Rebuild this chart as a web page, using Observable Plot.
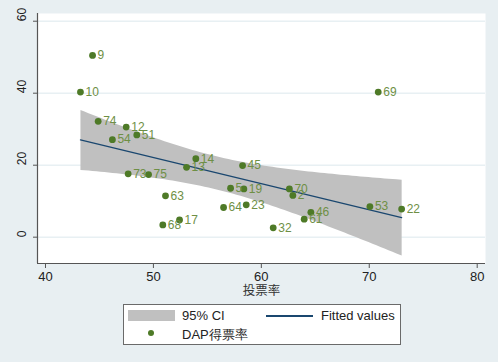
<!DOCTYPE html>
<html>
<head>
<meta charset="utf-8">
<script src="https://cdn.jsdelivr.net/npm/d3@7"></script>
<script src="https://cdn.jsdelivr.net/npm/@observablehq/plot@0.6"></script>
<style>
  html, body { margin: 0; padding: 0; background: #e8eff2; }
  #wrap { position: relative; width: 498px; height: 362px; background: #e8eff2; font-family: "Liberation Sans", Arial, sans-serif; overflow: hidden; }
  #legend { position: absolute; left: 123px; top: 304px; width: 276px; height: 39px; background: #fff; border: 1px solid #6a6a6a; }
  .lg { position: absolute; font-size: 13px; color: #222; line-height: 13px; }
</style>
</head>
<body>
<div id="wrap">
  <div id="chart"></div>
  <div id="legend">
    <div style="position:absolute;left:4px;top:5px;width:47px;height:11px;background:#c0c0c0"></div>
    <div class="lg" style="left:58px;top:4px">95% CI</div>
    <div style="position:absolute;left:142px;top:10px;width:47px;height:1.5px;background:#1a476f"></div>
    <div class="lg" style="left:197px;top:4px">Fitted values</div>
    <div style="position:absolute;left:24px;top:25px;width:6px;height:6px;border-radius:50%;background:#4e7a27"></div>
    <div class="lg" style="left:58px;top:23px">DAP得票率</div>
  </div>
</div>
<script>
const ids = ["9","10","74","12","51","54","69","73","75","14","13","63","64","17","68","5","45","19","23","70","2","46","61","32","53","22"];
const turnout = [44.36,43.24,44.88,47.48,48.46,46.2,70.83,47.66,49.55,53.93,53.07,51.12,56.5,52.42,50.87,57.15,58.26,58.38,58.6,62.6,62.92,64.59,63.97,61.1,70.06,73.0];
const dapShare = [50.5,40.3,32.2,30.6,28.4,27.1,40.3,17.6,17.4,21.8,19.4,11.5,8.25,4.8,3.4,13.6,19.9,13.4,9.0,13.4,11.6,6.9,5.0,2.6,8.5,7.8];
const xTicks = [40,50,60,70,80];
const yTicks = [0,20,40,60];
const xDomain = [39.26, 80.77];
const yDomain = [-7.31, 62.14];

const data = ids.map((id, i) => ({id, x: turnout[i], y: dapShare[i]}));

const chart = Plot.plot({
  width: 498,
  height: 362,
  marginLeft: 37,
  marginRight: 13,
  marginTop: 13,
  marginBottom: 99,
  style: {background: "transparent", fontFamily: "'Liberation Sans', Arial, sans-serif", fontSize: "13px", color: "#222"},
  x: {domain: xDomain, ticks: xTicks},
  y: {domain: yDomain, ticks: yTicks},
  marks: [
    Plot.frame({fill: "white", stroke: "none"}),
    Plot.ruleY(yTicks, {stroke: "#e8f0f3", strokeWidth: 1.5}),
    Plot.linearRegressionY(data, {x: "x", y: "y", ci: 0.95, fill: "#c0c0c0", fillOpacity: 1, stroke: "#1a476f", strokeWidth: 1.3}),
    Plot.dot(data, {x: "x", y: "y", r: 3.4, fill: "#4e7a27", stroke: "none"}),
    Plot.text(data, {x: "x", y: "y", text: "id", textAnchor: "start", dx: 5, fill: "#6e8f45", fontSize: 12}),
    Plot.ruleX([xDomain[0]], {stroke: "#555", strokeWidth: 1.2}),
    Plot.ruleY([yDomain[0]], {stroke: "#555", strokeWidth: 1.2}),
    Plot.axisX({ticks: xTicks, tickSize: 5, tickPadding: 3, label: null, fontSize: 13, stroke: "#555"}),
    Plot.axisY({ticks: yTicks, tickSize: 4, tickFormat: () => "", label: null, stroke: "#555"}),
    Plot.text(yTicks, {y: d => d, text: d => String(d), frameAnchor: "left", dx: -15, rotate: -90, fontSize: 12, fill: "#222"}),
    Plot.text(["投票率"], {frameAnchor: "bottom", dy: 31, text: d => d, fontSize: 12.5, fill: "#333", fontFamily: "'Noto Sans CJK SC', sans-serif"})
  ]
});
document.getElementById("chart").appendChild(chart);
</script>
</body>
</html>
